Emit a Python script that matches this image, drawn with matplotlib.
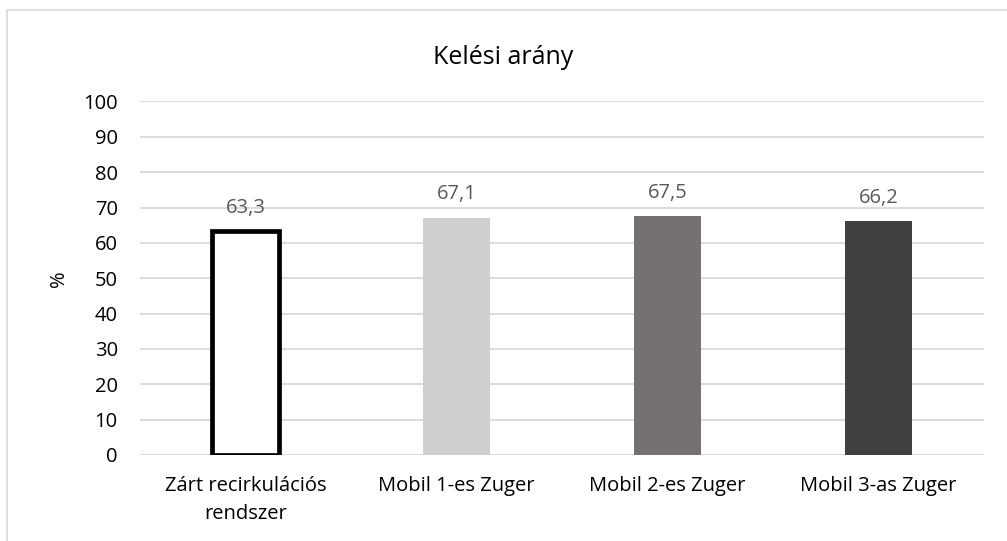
import matplotlib
matplotlib.use("Agg")
import matplotlib.pyplot as plt
from matplotlib.patches import Rectangle

categories = ["Zárt recirkulációs\nrendszer", "Mobil 1-es Zuger", "Mobil 2-es Zuger", "Mobil 3-as Zuger"]
values = [63.3, 67.1, 67.5, 66.2]
labels = ["63,3", "67,1", "67,5", "66,2"]
fills = ["white", "#d0cece", "#767171", "#404040"]
edges = ["black", "#d0cece", "#767171", "#404040"]
yticks = list(range(0, 101, 10))

plt.rcParams["font.family"] = ["Open Sans", "DejaVu Sans"]

fig = plt.figure(figsize=(10.07, 5.41), dpi=100)
ax = fig.add_axes([140 / 1007, 1 - 455 / 541, 844 / 1007, (455 - 101.5) / 541])

# chart border (light grey frame like Excel)
fig.patches.append(Rectangle((7 / 1007, -0.1), 1.1, 1 - 10 / 541 + 0.1, transform=fig.transFigure,
                             fill=False, edgecolor="#d9d9d9", linewidth=1.2))

x = range(len(categories))
for i, (v, f, e) in enumerate(zip(values, fills, edges)):
    lw = 3.4 if e == "black" else 0
    ax.bar(i, v, width=0.32, color=f, edgecolor=e, linewidth=lw, zorder=3)
    ax.text(i, v + 6.6, labels[i], ha="center", va="center", fontsize=14.5, color="#595959")

ax.set_xlim(-0.5, len(categories) - 0.5)
ax.set_ylim(0, 100)
ax.set_yticks(yticks)
ax.set_yticklabels([str(t) for t in yticks], fontsize=14.5)
ax.set_xticks(list(x))
ax.set_xticklabels(categories, fontsize=14.5, linespacing=1.55)
ax.tick_params(axis="y", length=0, pad=16)
ax.tick_params(axis="x", length=0, pad=15)
ax.grid(axis="y", color="#d9d9d9", linewidth=1.3, zorder=0)
for s in ax.spines.values():
    s.set_visible(False)
ax.set_ylabel("%", fontsize=14.5, labelpad=10)

fig.text(0.5, 1 - 58 / 541, "Kelési arány", ha="center", va="center", fontsize=18)

fig.savefig("out.png", dpi=100)
